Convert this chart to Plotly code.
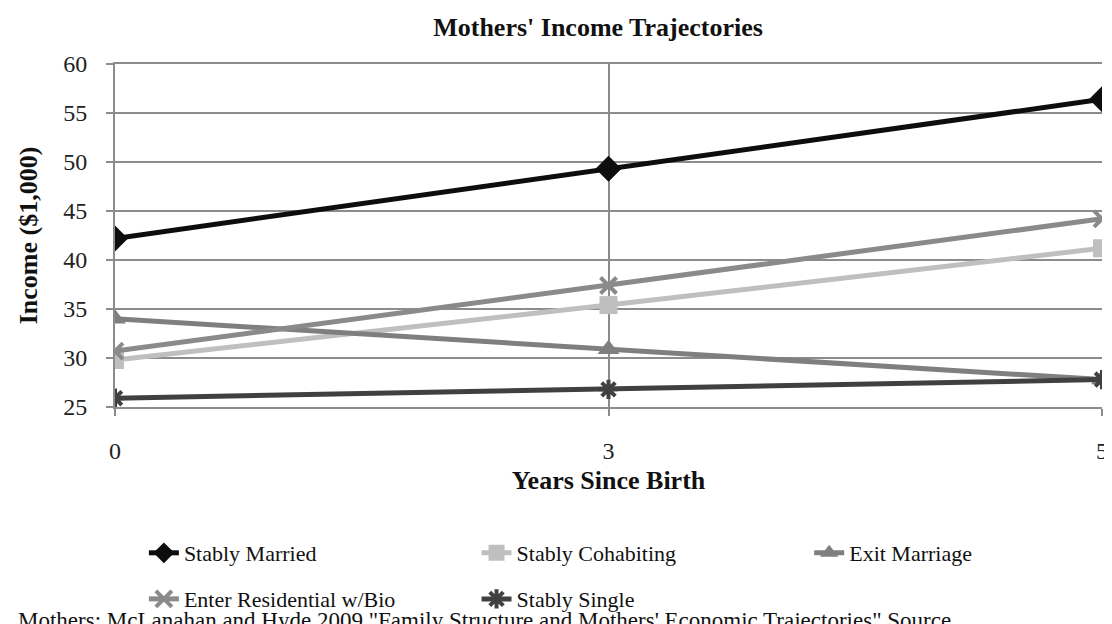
import plotly.graph_objects as go

# 데이터
years = ['0', '3', '5']
stably_married = [42.2, 49.3, 56.4]
stably_cohabiting = [29.8, 35.4, 41.2]
exit_marriage = [34.0, 30.9, 27.8]
enter_residential = [30.7, 37.4, 44.2]
stably_single = [25.9, 26.8, 27.8]

FONT = 'Liberation Serif'
W, H = 1112, 624
L, R, T, B = 107, 14, 56, 218
plot_w, plot_h = W - L - R, H - T - B


def px_x(x):
    return (x - L) / plot_w


def px_y(y):
    return (H - B - y) / plot_h


fig = go.Figure()

# 시리즈별 스타일: (이름, 값, 색, 마커, 크기, 범례, 범례 위치 px)
series = [
    ('Stably Married', stably_married, '#0d0d0d', 'diamond', 20, 'legend', (136, 555)),
    ('Stably Cohabiting', stably_cohabiting, '#bfbfbf', 'square', 18, 'legend2', (470, 555)),
    ('Exit Marriage', exit_marriage, '#7f7f7f', 'triangle-up', 19, 'legend3', (804, 555)),
    ('Enter Residential w/Bio', enter_residential, '#8a8a8a', 'x-thin-open', 16, 'legend4', (136, 602)),
    ('Stably Single', stably_single, '#404040', 'asterisk-open', 16, 'legend5', (470, 602)),
]

legends = {}
for name, vals, color, symbol, size, leg, (lx, ly) in series:
    marker = dict(symbol=symbol, size=size, color=color)
    if 'open' in symbol:
        marker['line'] = dict(color=color, width=4)
    fig.add_trace(go.Scatter(x=years, y=vals, name=name, mode='lines+markers',
                             line=dict(color=color, width=5), marker=marker,
                             legend=leg, showlegend=True))
    legends[leg] = dict(x=px_x(lx), xanchor='left', y=px_y(ly), yanchor='middle',
                        orientation='h', bgcolor='rgba(0,0,0,0)',
                        font=dict(size=22, color='#111111'))

fig.update_layout(
    width=W, height=H,
    margin=dict(l=L, r=R, t=T, b=B),
    plot_bgcolor='white', paper_bgcolor='white',
    showlegend=True,
    font=dict(family=FONT, size=22, color='#222222'),
    title=dict(text="<b>Mothers' Income Trajectories</b>", xref='paper', x=px_x(592),
               xanchor='center', y=1 - 19 / H, yanchor='middle',
               font=dict(size=26, color='#111111')),
    **legends,
)

fig.update_xaxes(
    type='category', range=[0, 2],
    showgrid=True, gridcolor='#8c8c8c', gridwidth=2,
    showline=True, linecolor='#8c8c8c', linewidth=2, mirror=True,
    ticks='outside', ticklen=7, tickwidth=2, tickcolor='#8c8c8c',
    ticklabelstandoff=14,
    title=dict(text='<b>Years Since Birth</b>', font=dict(size=26, color='#111111'), standoff=8),
    tickfont=dict(size=24, color='#222222'), zeroline=False,
)
fig.update_yaxes(
    range=[25, 60], dtick=5,
    showgrid=True, gridcolor='#8c8c8c', gridwidth=2,
    showline=True, linecolor='#8c8c8c', linewidth=2,
    ticks='outside', ticklen=7, tickwidth=2, tickcolor='#8c8c8c',
    ticklabelstandoff=14,
    title=dict(text='<b>Income ($1,000)</b>', font=dict(size=26, color='#111111'), standoff=18),
    tickfont=dict(size=24, color='#222222'), zeroline=False,
)

# 하단 출처 (아래쪽이 잘려 있음)
fig.add_annotation(
    text='Mothers: McLanahan and Hyde 2009 "Family Structure and Mothers\' Economic Trajectories" Source',
    xref='paper', yref='paper', x=px_x(8), y=px_y(624), xanchor='left', yanchor='middle',
    showarrow=False, font=dict(size=23, color='#111111'),
)

fig.write_html("out.html")
